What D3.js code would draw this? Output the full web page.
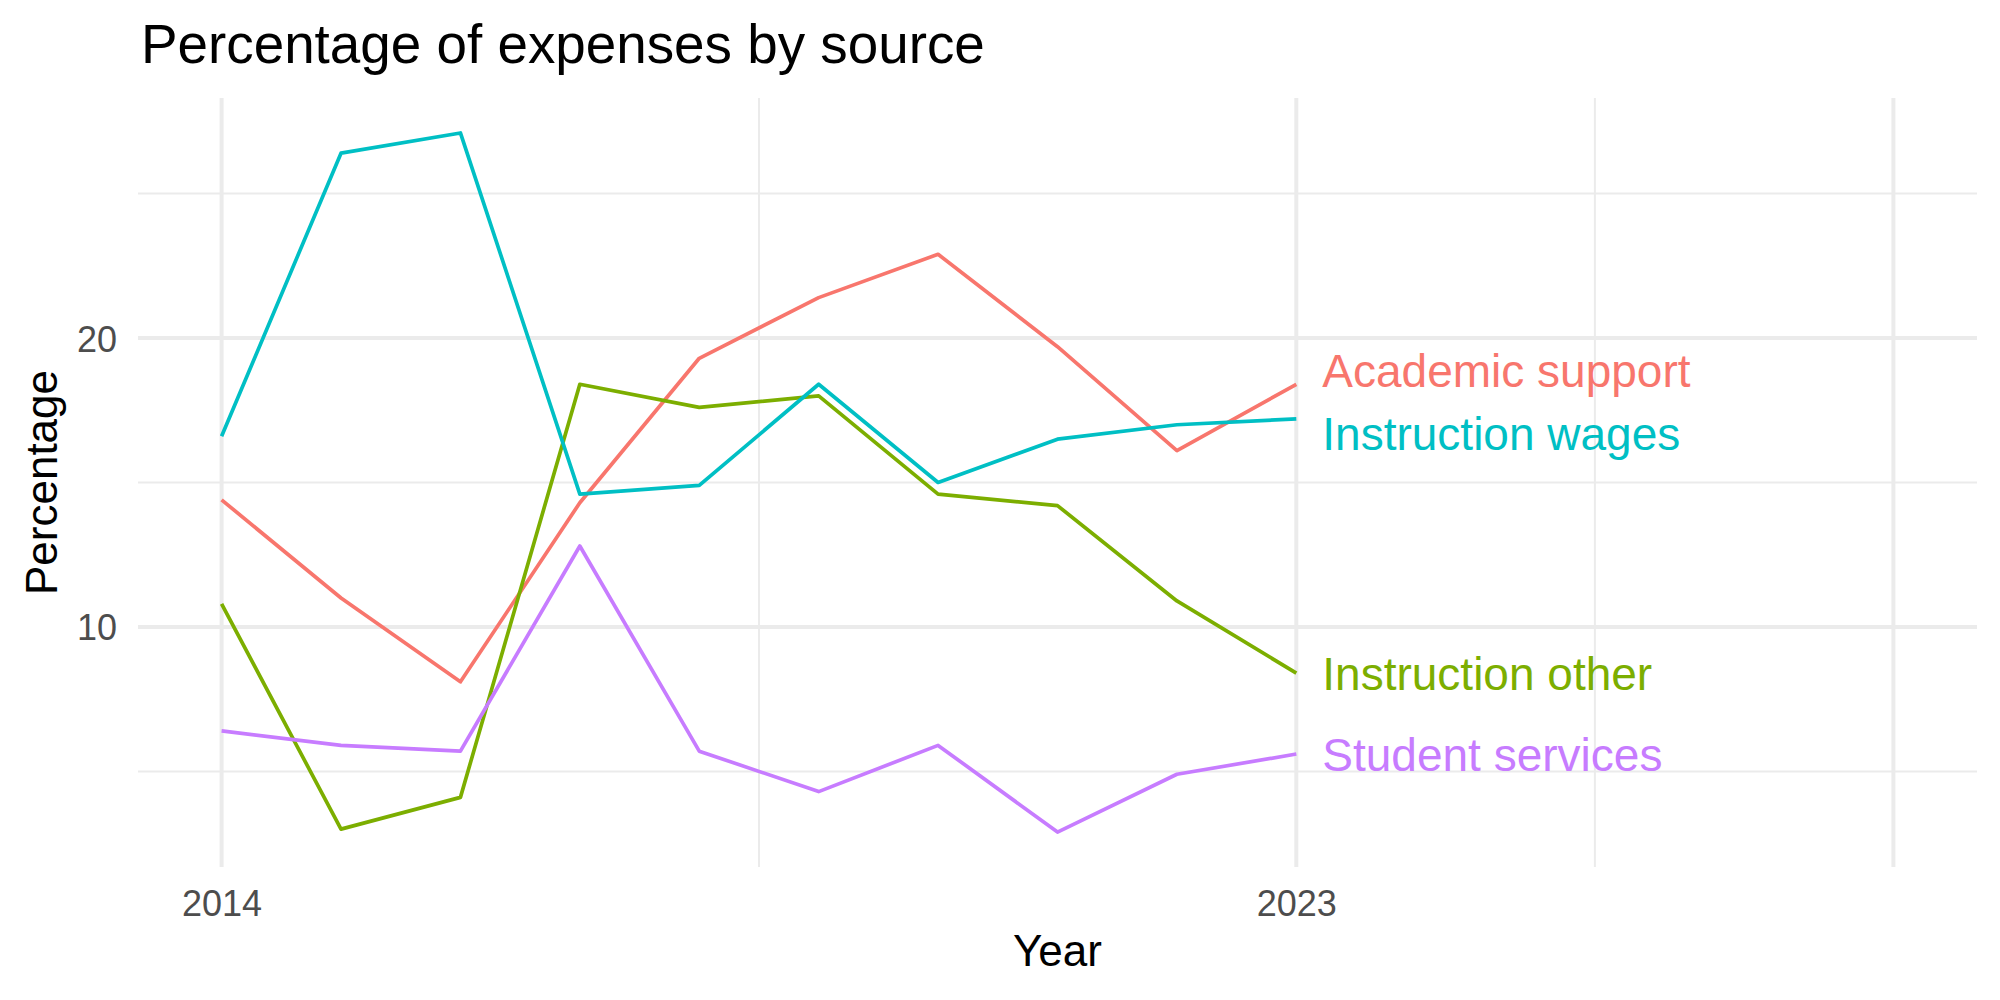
<!DOCTYPE html>
<html>
<head>
<meta charset="utf-8">
<script src="https://cdn.jsdelivr.net/npm/d3@7"></script>
<style>
  body { margin: 0; background: #fff; }
  text { font-family: "Liberation Sans", Arial, sans-serif; }
</style>
</head>
<body>
<script>
// data
var years = [2014, 2015, 2016, 2017, 2018, 2019, 2020, 2021, 2022, 2023];
var sources = ["Academic support", "Instruction other", "Instruction wages", "Student services"];
var colors = ["#F8766D", "#7CAE00", "#00BFC4", "#C77CFF"];
var academicSupport = [14.4, 11.0, 8.1, 14.3, 19.3, 21.4, 22.9, 19.7, 16.1, 18.4];
var instructionOther = [10.8, 3.0, 4.1, 18.4, 17.6, 18.0, 14.6, 14.2, 10.9, 8.4];
var instructionWages = [16.6, 26.4, 27.1, 14.6, 14.9, 18.4, 15.0, 16.5, 17.0, 17.2];
var studentServices = [6.4, 5.9, 5.7, 12.8, 5.7, 4.3, 5.9, 2.9, 4.9, 5.6];
var xMajor = [2014, 2023, 2028];
var xLabels = [2014, 2023];
var xMinor = [2018.5, 2025.5];
var yMajor = [10, 20];
var yMinor = [5, 15, 25];

var series = [academicSupport, instructionOther, instructionWages, studentServices];

// set dimensions
var width = 2000;
var height = 1000;
var pLeft = 138, pRight = 1977, pTop = 98, pBottom = 867;

var svg = d3.select("body")
    .append("svg")
    .attr("width", width)
    .attr("height", height);

// scales (x limits 2014..2028, y from data, both with 5% expansion)
var xScale = d3.scaleLinear()
    .domain([2013.3, 2028.7])
    .range([pLeft, pRight]);

var yMin = d3.min(series, s => d3.min(s));
var yMax = d3.max(series, s => d3.max(s));
var pad = (yMax - yMin) * 0.05;
var yScale = d3.scaleLinear()
    .domain([yMin - pad, yMax + pad])
    .range([pBottom, pTop]);

// grid
var grid = svg.append("g");
grid.selectAll(".ymin").data(yMinor).enter().append("line")
    .attr("x1", pLeft).attr("x2", pRight)
    .attr("y1", d => yScale(d)).attr("y2", d => yScale(d))
    .attr("stroke", "#EBEBEB").attr("stroke-width", 2);
grid.selectAll(".xmin").data(xMinor).enter().append("line")
    .attr("y1", pTop).attr("y2", pBottom)
    .attr("x1", d => xScale(d)).attr("x2", d => xScale(d))
    .attr("stroke", "#EBEBEB").attr("stroke-width", 2);
grid.selectAll(".ymaj").data(yMajor).enter().append("line")
    .attr("x1", pLeft).attr("x2", pRight)
    .attr("y1", d => yScale(d)).attr("y2", d => yScale(d))
    .attr("stroke", "#EBEBEB").attr("stroke-width", 4);
grid.selectAll(".xmaj").data(xMajor).enter().append("line")
    .attr("y1", pTop).attr("y2", pBottom)
    .attr("x1", d => xScale(d)).attr("x2", d => xScale(d))
    .attr("stroke", "#EBEBEB").attr("stroke-width", 4);

// axes (no domain, no ticks, only labels)
var xAxis = d3.axisBottom(xScale).tickValues(xLabels).tickFormat(d3.format("d")).tickSize(0).tickPadding(0);
var gx = svg.append("g")
    .attr("transform", `translate(0, ${pBottom})`)
    .call(xAxis);
gx.select(".domain").remove();
gx.selectAll("text")
    .attr("dy", null)
    .attr("y", 49)
    .attr("font-size", "36px")
    .attr("font-family", "Liberation Sans, Arial, sans-serif")
    .attr("fill", "#4D4D4D");

var yAxis = d3.axisLeft(yScale).tickValues(yMajor).tickSize(0).tickPadding(0);
var gy = svg.append("g")
    .attr("transform", `translate(${pLeft - 21}, 0)`)
    .call(yAxis);
gy.select(".domain").remove();
gy.selectAll("text")
    .attr("x", 0)
    .attr("dy", "0.36em")
    .attr("font-size", "36px")
    .attr("font-family", "Liberation Sans, Arial, sans-serif")
    .attr("fill", "#4D4D4D");

// lines
var line = d3.line()
    .x((d, i) => xScale(years[i]))
    .y(d => yScale(d));

svg.selectAll(".series")
    .data(series)
    .enter()
    .append("path")
    .attr("d", d => line(d))
    .attr("fill", "none")
    .attr("stroke", (d, i) => colors[i])
    .attr("stroke-width", 3.7)
    .attr("stroke-linejoin", "round");

// end labels, nudged apart so they don't overlap
var labels = sources.map((s, i) => ({ name: s, color: colors[i], y: yScale(series[i][series[i].length - 1]) }));
labels.sort((a, b) => a.y - b.y);
var gap = 63;
for (var k = 0; k < 20; k++) {
    for (var j = 1; j < labels.length; j++) {
        var diff = labels[j].y - labels[j - 1].y;
        if (diff < gap) {
            var shift = (gap - diff) / 2;
            labels[j].y += shift;
            labels[j - 1].y -= shift;
        }
    }
}
var lastX = xScale(years[years.length - 1]);
svg.selectAll(".endlabel")
    .data(labels)
    .enter()
    .append("text")
    .attr("x", lastX + 26)
    .attr("y", d => d.y)
    .attr("dy", "0.36em")
    .attr("font-size", "46px")
    .attr("fill", d => d.color)
    .text(d => d.name);

// titles
svg.append("text")
    .attr("x", 141)
    .attr("y", 63)
    .attr("font-size", "54.8px")
    .attr("fill", "#000")
    .text("Percentage of expenses by source");

svg.append("text")
    .attr("x", (pLeft + pRight) / 2)
    .attr("y", 966)
    .attr("text-anchor", "middle")
    .attr("font-size", "44px")
    .attr("fill", "#000")
    .text("Year");

svg.append("text")
    .attr("transform", `translate(57, ${(pTop + pBottom) / 2}) rotate(-90)`)
    .attr("text-anchor", "middle")
    .attr("font-size", "44px")
    .attr("fill", "#000")
    .text("Percentage");
</script>
</body>
</html>
